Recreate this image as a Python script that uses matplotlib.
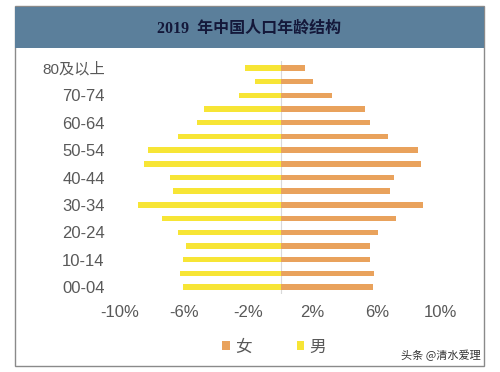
import matplotlib.pyplot as plt
from matplotlib.patches import Rectangle

plt.rcParams['font.family'] = ['Liberation Sans', 'Noto Sans CJK SC', 'DejaVu Sans']

# 年龄组，从下到上
age_groups = ['00-04', '05-09', '10-14', '15-19', '20-24', '25-29', '30-34', '35-39',
              '40-44', '45-49', '50-54', '55-59', '60-64', '65-69', '70-74', '75-79', '80及以上']
male = [6.1, 6.25, 6.1, 5.9, 6.4, 7.4, 8.9, 6.7, 6.9, 8.5, 8.25, 6.4, 5.2, 4.75, 2.6, 1.6, 2.2]
female = [5.75, 5.8, 5.55, 5.55, 6.05, 7.2, 8.9, 6.8, 7.1, 8.75, 8.6, 6.7, 5.55, 5.25, 3.2, 2.0, 1.5]
xticks = [-10, -6, -2, 2, 6, 10]

W, H = 500, 372
fig = plt.figure(figsize=(5, 3.72), dpi=100)

# 外框和标题栏
fig.patches.append(Rectangle((15 / W, 1 - 366 / H), 469 / W, 360 / H, transform=fig.transFigure,
                             facecolor='white', edgecolor='#8a8a8a', linewidth=1.0, zorder=-2))
fig.patches.append(Rectangle((15 / W, 1 - 48 / H), 469 / W, 41 / H, transform=fig.transFigure,
                             facecolor='#5b7f9b', edgecolor='none', zorder=-1))
fig.text(249 / W, 1 - 29 / H, '2019  年中国人口年龄结构', ha='center', va='center',
         fontsize=11.5, fontweight='bold', color='#14183a',
         family=['Liberation Serif', 'Noto Sans CJK SC'])

ax = fig.add_axes([88 / W, 1 - 294 / H, 385 / W, 233 / H])
y = list(range(len(age_groups)))
ax.barh(y, [-m for m in male], height=0.4, color='#f7e535', label='男')
ax.barh(y, female, height=0.4, color='#e9a25c', label='女')
ax.axvline(0, color='#d9d9d9', linewidth=0.8, zorder=0)

ax.set_xlim(-12, 12)
ax.set_ylim(-0.5, len(age_groups) - 0.5)
ax.set_xticks(xticks)
ax.set_xticklabels([f'{t}%' for t in xticks])
ax.set_yticks(y[::2])
ax.set_yticklabels(age_groups[::2])
ax.tick_params(length=0, labelsize=12, colors='#595959')
ax.tick_params(axis='y', pad=-12)
ax.tick_params(axis='x', pad=8)
ax.get_yticklabels()[-1].set_fontsize(11)
for s in ax.spines.values():
    s.set_visible(False)
ax.patch.set_alpha(0)

# 图例
h, l = ax.get_legend_handles_labels()
fig.legend([h[1], h[0]], [l[1], l[0]], loc='center', bbox_to_anchor=(274 / W, 1 - 347 / H),
           ncol=2, frameon=False, fontsize=12, handlelength=0.45, handleheight=0.45,
           columnspacing=2.7, handletextpad=0.3, labelcolor='#595959')

fig.text(441 / W, 1 - 355 / H, '头条 @清水爱理', ha='center', va='center', fontsize=8, color='#333333',
         family=['Noto Sans CJK SC'])

fig.savefig('out.png', dpi=100)
